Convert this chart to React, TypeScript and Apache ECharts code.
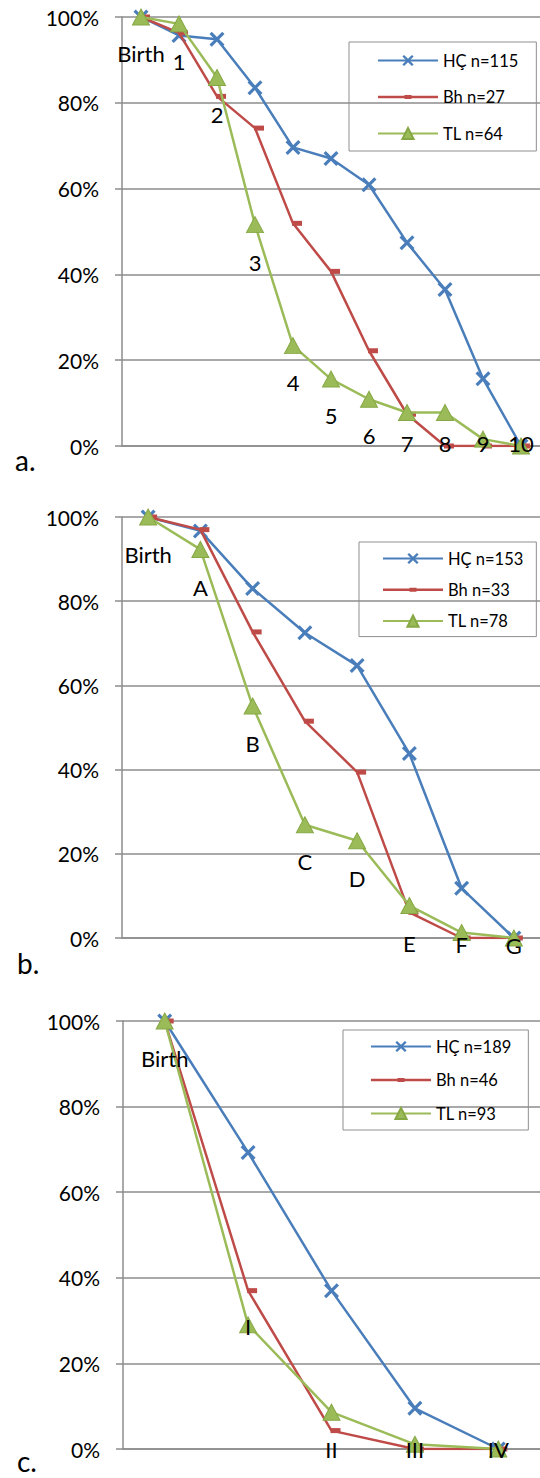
import React, { useEffect, useRef } from "react";
import * as echarts from "echarts";

// ---------- data ----------
const catsA = ["Birth", "1", "2", "3", "4", "5", "6", "7", "8", "9", "10"];
const hcA = [100, 95.7, 94.8, 83.5, 69.6, 67.0, 60.9, 47.4, 36.5, 15.7, 0];
const bhA = [100, 96.3, 81.5, 74.1, 51.9, 40.7, 22.2, 7.4, 0, 0, 0];
const tlA = [100, 98.4, 85.9, 51.6, 23.4, 15.6, 10.9, 7.8, 7.8, 1.6, 0];
const labelAtA = [91.4, 89.6, 77.2, 42.7, 14.8, 7.0, 2.4, 0.5, 0.5, 0.5, 0.5];
const namesA = ["HÇ n=115", "Bh n=27", "TL n=64"];

const catsB = ["Birth", "A", "B", "C", "D", "E", "F", "G"];
const hcB = [100, 96.7, 83.0, 72.5, 64.7, 43.8, 11.8, 0];
const bhB = [100, 97.0, 72.7, 51.5, 39.4, 6.1, 0, 0];
const tlB = [100, 92.3, 55.1, 26.9, 23.1, 7.7, 1.3, 0];
const labelAtB = [91.0, 83.3, 46.2, 18.1, 14.1, -1.3, -1.5, -1.7];
const namesB = ["HÇ n=153", "Bh n=33", "TL n=78"];

const catsC = ["Birth", "I", "II", "III", "IV"];
const hcC = [100, 69.3, 37.0, 9.5, 0];
const bhC = [100, 37.0, 4.3, 0, 0];
const tlC = [100, 29.0, 8.6, 1.1, 0];
const labelAtC = [91.2, 28.6, 0, 0, 0];
const namesC = ["HÇ n=189", "Bh n=46", "TL n=93"];

const yTicks = [0, 20, 40, 60, 80, 100];

// ---------- styles ----------
const FONT = "Lato";
const BLUE = "#4A7EBB";
const RED = "#BE4B48";
const GREEN = "#9BBB59";
const GRID = "#8c8c8c";
const X_SYMBOL =
  "path://M0,1.5L1.5,0L5,3.5L8.5,0L10,1.5L6.5,5L10,8.5L8.5,10L5,6.5L1.5,10L0,8.5L3.5,5Z";
const RED_LEGEND_ICON =
  "path://M0,5.75L26.5,5.75L26.5,5L33.5,5L33.5,5.75L60,5.75L60,8.25L33.5,8.25L33.5,9L26.5,9L26.5,8.25L0,8.25Z";

function lineSeries(name: string, data: number[], idx: number, kind: number) {
  const base: any = {
    type: "line",
    name,
    data,
    xAxisIndex: idx,
    yAxisIndex: idx,
    z: 2 + kind,
  };
  if (kind === 0) {
    return {
      ...base,
      symbol: X_SYMBOL,
      symbolSize: 15,
      lineStyle: { color: BLUE, width: 2.5 },
      itemStyle: { color: BLUE },
    };
  }
  if (kind === 1) {
    return {
      ...base,
      symbol: "rect",
      symbolSize: [10, 5],
      symbolOffset: [4, 0],
      lineStyle: { color: RED, width: 2.5 },
      itemStyle: { color: RED },
    };
  }
  return {
    ...base,
    symbol: "triangle",
    symbolSize: [17, 16],
    lineStyle: { color: GREEN, width: 2.5 },
    itemStyle: { color: GREEN, borderColor: "#86A844", borderWidth: 1 },
  };
}

function labelSeries(data: number[], idx: number) {
  return {
    type: "line",
    name: "labels" + idx,
    data,
    xAxisIndex: idx,
    yAxisIndex: idx,
    symbol: "circle",
    symbolSize: 2,
    showSymbol: true,
    clip: false,
    silent: true,
    z: 10,
    lineStyle: { width: 0, opacity: 0 },
    itemStyle: { color: "rgba(0,0,0,0)" },
    label: {
      show: true,
      position: "inside",
      formatter: "{b}",
      fontFamily: FONT,
      fontSize: 22,
      color: "#000",
      align: "center",
      verticalAlign: "middle",
    },
  };
}

function legend(names: string[], left: number, top: number, gap: number, padding: number[]) {
  return {
    data: [
      { name: names[0] },
      { name: names[1], icon: RED_LEGEND_ICON },
      { name: names[2] },
    ],
    orient: "vertical",
    left,
    top,
    itemWidth: 60,
    itemHeight: 14,
    itemGap: gap,
    padding,
    borderColor: "#8f8f8f",
    borderWidth: 1,
    backgroundColor: "transparent",
    selectedMode: false,
    textStyle: { fontFamily: FONT, fontSize: 16.5, color: "#000", lineHeight: 14 },
  };
}

export default function App() {
  const ref = useRef<HTMLDivElement>(null);
  useEffect(() => {
    if (!ref.current) return;
    const chart = echarts.init(ref.current, undefined, { renderer: "svg" });
    const grids = [
      { left: 122, top: 17, width: 418, height: 429 },
      { left: 122, top: 517, width: 418, height: 421 },
      { left: 123, top: 1021, width: 417, height: 428 },
    ];
    const cats = [catsA, catsB, catsC];
    const xAxis = cats.map((c, i) => ({
      type: "category",
      gridIndex: i,
      data: c,
      boundaryGap: true,
      axisLine: { show: true, lineStyle: { color: GRID, width: 1.5 } },
      axisTick: { show: false },
      axisLabel: { show: false },
      splitLine: { show: false },
    }));
    const yAxis = cats.map((_, i) => ({
      type: "value",
      gridIndex: i,
      min: yTicks[0],
      max: yTicks[yTicks.length - 1],
      interval: yTicks[1] - yTicks[0],
      axisLine: { show: true, lineStyle: { color: GRID, width: 1.5 } },
      axisTick: { show: true, length: 7, inside: false, lineStyle: { color: GRID, width: 1.5 } },
      axisLabel: {
        formatter: "{value}%",
        fontFamily: FONT,
        fontSize: 21,
        color: "#000",
        margin: 23,
      },
      splitLine: { show: true, lineStyle: { color: GRID, width: 1.5 } },
    }));
    const series: any[] = [
      lineSeries(namesA[0], hcA, 0, 0),
      lineSeries(namesA[1], bhA, 0, 1),
      lineSeries(namesA[2], tlA, 0, 2),
      labelSeries(labelAtA, 0),
      lineSeries(namesB[0], hcB, 1, 0),
      lineSeries(namesB[1], bhB, 1, 1),
      lineSeries(namesB[2], tlB, 1, 2),
      labelSeries(labelAtB, 1),
      lineSeries(namesC[0], hcC, 2, 0),
      lineSeries(namesC[1], bhC, 2, 1),
      lineSeries(namesC[2], tlC, 2, 2),
      labelSeries(labelAtC, 2),
    ];
    const panelText = (t: string, x: number, y: number) => ({
      type: "text",
      x,
      y,
      style: {
        text: t,
        fontFamily: FONT,
        fontSize: 28,
        fill: "#000",
        align: "left",
        verticalAlign: "middle",
      },
    });
    chart.setOption({
      animation: false,
      backgroundColor: "#fff",
      grid: grids,
      xAxis,
      yAxis,
      legend: [
        legend(namesA, 349, 42, 19.5, [10, 18, 9, 28]),
        legend(namesB, 359, 542, 14.3, [8, 13, 7, 23]),
        legend(namesC, 343, 1030, 16.5, [8, 17, 8, 27]),
      ],
      series,
      graphic: [
        panelText("a.", 15, 459.6),
        panelText("b.", 17, 963),
        panelText("c.", 17, 1461),
      ],
    });
    return () => chart.dispose();
  }, []);
  return (
    <div
      ref={ref}
      style={{ position: "absolute", left: 0, top: 0, width: 540, height: 1478 }}
    />
  );
}
